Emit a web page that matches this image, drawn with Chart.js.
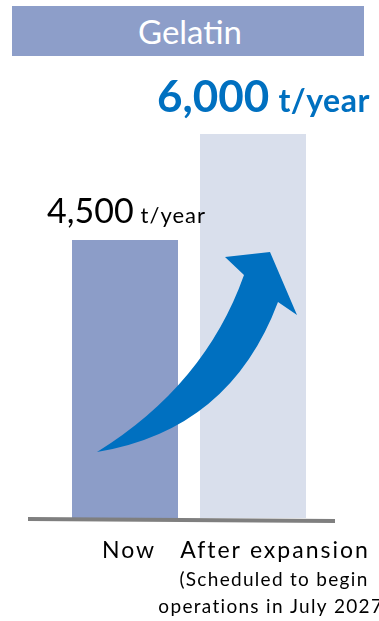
<!DOCTYPE html>
<html>
<head>
<meta charset="utf-8">
<script src="https://cdn.jsdelivr.net/npm/chart.js@4"></script>
<style>
  html, body { margin: 0; padding: 0; background: #ffffff; width: 379px; height: 621px; overflow: hidden; }
  #wrap { position: relative; width: 379px; height: 621px; }
  #title { position: absolute; left: 12px; top: 6px; width: 352px; height: 50px; background: #8d9ec9;
           color: #ffffff; font-family: Lato, "Open Sans", sans-serif; font-size: 33px; line-height: 50px;
           text-align: center; padding-left: 4px; box-sizing: border-box; }
  canvas { position: absolute; left: 0; top: 0; }
</style>
</head>
<body>
<div id="wrap">
  <canvas id="c" width="379" height="621"></canvas>
  <div id="title">Gelatin</div>
</div>
<script>
const categories = ['Now', 'After expansion'];
const values = [4500, 6000];
const valueLabels = ['4,500', '6,000'];
const unitLabel = 't/year';
const subLabels = ['(Scheduled to begin', 'operations in July 2027)'];
const barColors = ['#8c9dc8', '#d9dfec'];

const FONT = 'Lato, "Open Sans", sans-serif';

const decorPlugin = {
  id: 'decor',
  afterDatasetsDraw(chart) {
    const ctx = chart.ctx;
    const ca = chart.chartArea;
    const meta = chart.getDatasetMeta(0);
    const b0 = meta.data[0], b1 = meta.data[1];
    const L = ca.left, B = ca.bottom;
    // growth arrow (decoration), anchored to chart area
    ctx.save();
    ctx.fillStyle = '#0070c0';
    ctx.beginPath();
    ctx.moveTo(L + 36, B - 66);
    ctx.quadraticCurveTo(L + 144, B - 133, L + 183, B - 243);
    ctx.lineTo(L + 164, B - 261);
    ctx.lineTo(L + 209, B - 266);
    ctx.lineTo(L + 236, B - 203);
    ctx.lineTo(L + 217, B - 216);
    ctx.quadraticCurveTo(L + 169, B - 88, L + 36, B - 66);
    ctx.closePath();
    ctx.fill();
    ctx.restore();

    // baseline
    ctx.save();
    ctx.strokeStyle = '#7f7f7f';
    ctx.lineWidth = 4;
    ctx.beginPath();
    ctx.moveTo(L - 33, B + 1);
    ctx.lineTo(ca.right + 18, B + 3);
    ctx.stroke();
    ctx.restore();

    // value labels
    ctx.save();
    ctx.textBaseline = 'alphabetic';
    ctx.textAlign = 'left';
    // Now
    ctx.fillStyle = '#000000';
    ctx.font = '34px ' + FONT;
    let x = b0.x - 78;
    const y0 = b0.y - 17;
    ctx.fillText(valueLabels[0], x, y0);
    x += ctx.measureText(valueLabels[0]).width + 7;
    ctx.font = '22px ' + FONT;
    ctx.letterSpacing = '1px';
    ctx.fillText(unitLabel, x, y0);
    ctx.letterSpacing = '0px';
    // After
    ctx.fillStyle = '#0070c0';
    ctx.font = 'bold 44px ' + FONT;
    x = b1.x - 96;
    const y1 = b1.y - 22;
    ctx.fillText(valueLabels[1], x, y1);
    x += ctx.measureText(valueLabels[1]).width + 9;
    ctx.font = 'bold 32px ' + FONT;
    ctx.letterSpacing = '0.5px';
    ctx.fillText(unitLabel, x, y1);

    // category labels
    ctx.fillStyle = '#000000';
    ctx.textAlign = 'center';
    ctx.font = '23px ' + FONT;
    ctx.letterSpacing = '2px';
    ctx.fillText(categories[0], b0.x + 4, B + 40);
    ctx.fillText(categories[1], b1.x + 22, B + 40);
    ctx.font = '19px ' + FONT;
    ctx.letterSpacing = '1.3px';
    ctx.fillText(subLabels[0], b1.x + 21, B + 68);
    ctx.fillText(subLabels[1], b1.x + 21, B + 95);
    ctx.restore();
  }
};

new Chart(document.getElementById('c'), {
  type: 'bar',
  data: {
    labels: categories,
    datasets: [{
      data: values,
      backgroundColor: barColors,
      borderWidth: 0,
      categoryPercentage: 1,
      barPercentage: 106 / 128
    }]
  },
  options: {
    responsive: false,
    animation: false,
    devicePixelRatio: 1,
    layout: { padding: { top: 134, bottom: 103, left: 61, right: 62 } },
    plugins: { legend: { display: false }, tooltip: { enabled: false }, title: { display: false } },
    scales: {
      x: { display: false },
      y: { display: false, min: 566, max: 6000 }
    }
  },
  plugins: [decorPlugin]
});
</script>
</body>
</html>
